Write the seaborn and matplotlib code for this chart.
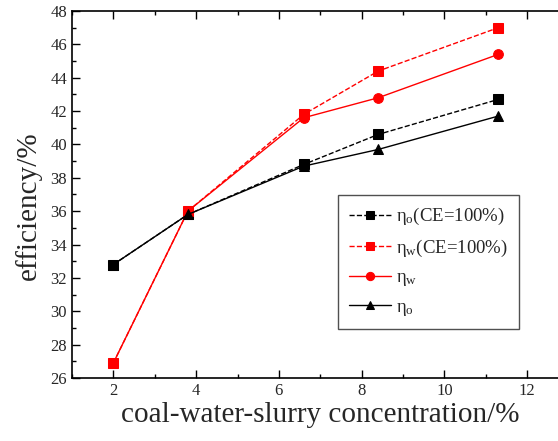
import matplotlib
matplotlib.use('Agg')
import matplotlib.pyplot as plt
import seaborn as sns
from matplotlib.ticker import MultipleLocator

# concentration of coal-water-slurry (%)
conc = [2.0, 3.8, 6.6, 8.4, 11.3]

eta_o_ce = [32.8, 35.8, 38.8, 40.6, 42.7]
eta_w_ce = [26.9, 36.0, 41.8, 44.4, 47.0]
eta_w = [26.9, 36.0, 41.6, 42.8, 45.4]
eta_o = [32.8, 35.8, 38.7, 39.7, 41.7]

labels = [r'$\mathregular{\eta_o}$(CE=100%)', r'$\mathregular{\eta_w}$(CE=100%)',
          r'$\mathregular{\eta_w}$', r'$\mathregular{\eta_o}$']

sns.set_style('ticks')
plt.rcParams['font.family'] = ['Liberation Serif', 'DejaVu Serif']
plt.rcParams['mathtext.fontset'] = 'custom'
plt.rcParams['mathtext.rm'] = 'Liberation Serif'
plt.rcParams['mathtext.it'] = 'Liberation Serif:italic'

fig = plt.figure(figsize=(5.58, 4.41), dpi=100)
ax = fig.add_axes([0.129, 0.143, 0.89, 0.832])

series = [
    (eta_o_ce, 'black', 's', '--'),
    (eta_w_ce, 'red', 's', '--'),
    (eta_w, 'red', 'o', '-'),
    (eta_o, 'black', '^', '-'),
]
for (vals, col, mk, ls), lab in zip(series, labels):
    sns.lineplot(x=conc, y=vals, ax=ax, color=col, marker=mk, linestyle=ls,
                 linewidth=1, markersize=7, markeredgecolor=col, label=lab)

ax.set_xlim(1, 13)
ax.set_ylim(26, 48)
ax.xaxis.set_major_locator(MultipleLocator(2))
ax.xaxis.set_minor_locator(MultipleLocator(1))
ax.yaxis.set_major_locator(MultipleLocator(2))
ax.yaxis.set_minor_locator(MultipleLocator(1))
ax.tick_params(which='both', direction='in', top=True, right=True,
               labelsize=12, width=1, color='black')
ax.tick_params(which='major', length=6)
ax.tick_params(which='minor', length=3)
for s in ax.spines.values():
    s.set_linewidth(1.2)
    s.set_color('black')

ax.set_xlabel('coal-water-slurry concentration/%', fontsize=21, labelpad=2)
ax.set_ylabel('efficiency/%', fontsize=21)
ax.yaxis.set_label_coords(-0.06, 0.47)

leg = ax.legend(loc='upper left', bbox_to_anchor=(0.536, 0.499), borderaxespad=0,
                fontsize=13.5, frameon=True, fancybox=False, framealpha=1,
                edgecolor='#505050', handlelength=2.2, handletextpad=0.3,
                labelspacing=0.55, borderpad=0.6, markerscale=0.85)
leg.get_frame().set_linewidth(1)

fig.savefig('out.png', dpi=100)
